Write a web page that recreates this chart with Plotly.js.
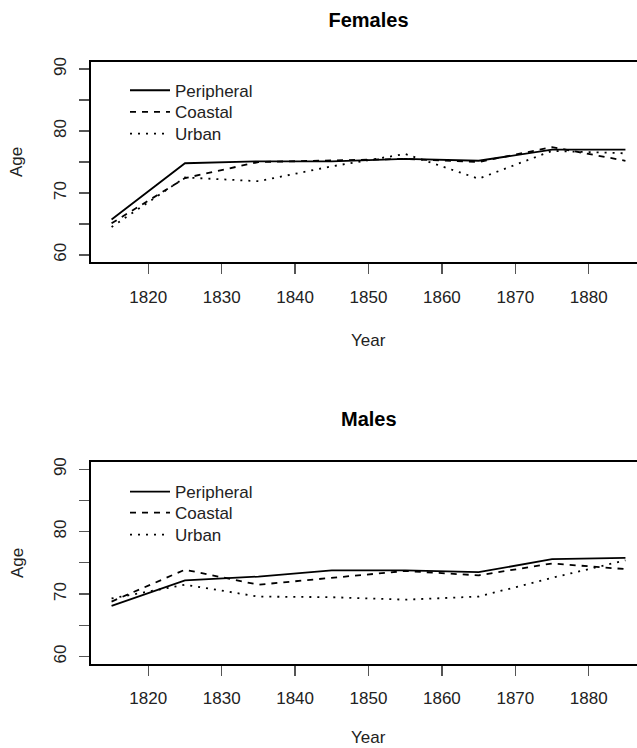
<!DOCTYPE html>
<html>
<head>
<meta charset="utf-8">
<script src="https://cdn.plot.ly/plotly-3.0.1.min.js"></script>
<style>
html,body{margin:0;padding:0;overflow:hidden;background:#fff;width:637px;height:748px;}
#chart{width:660px;height:748px;}
</style>
</head>
<body>
<div id="chart"></div>
<script>
// ---- data ----
const years = [1815, 1825, 1835, 1845, 1855, 1865, 1875, 1885];
const seriesNames = ["Peripheral", "Coastal", "Urban"];
const femalesPeripheral = [65.7, 74.8, 75.1, 75.1, 75.5, 75.2, 77.0, 77.0];
const femalesCoastal    = [65.1, 72.4, 75.0, 75.2, 75.5, 75.0, 77.4, 75.2];
const femalesUrban      = [64.5, 72.5, 71.9, 74.3, 76.3, 72.3, 76.8, 76.4];
const malesPeripheral   = [68.1, 72.2, 72.8, 73.8, 73.8, 73.5, 75.6, 75.8];
const malesCoastal      = [68.8, 73.9, 71.5, 72.6, 73.7, 73.0, 74.9, 74.0];
const malesUrban        = [69.3, 71.5, 69.6, 69.5, 69.1, 69.6, 72.6, 75.4];
const xTickVals = [1820, 1830, 1840, 1850, 1860, 1870, 1880];
const yTickVals = [60, 65, 70, 75, 80, 85, 90];
const yTickText = ["60", "", "70", "", "80", "", "90"];

// ---- styling ----
const W = 660, H = 748;
const dashes = ["solid", "6px,6px", "2px,6px"];
const font = "Liberation Sans, Arial, Helvetica, sans-serif";

function mk(y, i, xa, ya, lg) {
  return {
    x: years, y: y, type: "scatter", mode: "lines",
    name: seriesNames[i], xaxis: xa, yaxis: ya, legend: lg,
    line: {color: "#000", width: 1.8, dash: dashes[i]},
    hoverinfo: "skip"
  };
}
const traces = [
  mk(femalesPeripheral, 0, "x", "y", "legend"),
  mk(femalesCoastal, 1, "x", "y", "legend2"),
  mk(femalesUrban, 2, "x", "y", "legend3"),
  mk(malesPeripheral, 0, "x2", "y2", "legend4"),
  mk(malesCoastal, 1, "x2", "y2", "legend5"),
  mk(malesUrban, 2, "x2", "y2", "legend6")
];

function py(px) { return 1 - px / H; }

const xax = (anchor) => ({
  anchor: anchor, range: [1812.2, 1887.8], domain: [0, 1],
  tickmode: "array", tickvals: xTickVals, ticktext: xTickVals.map(String),
  ticks: "outside", ticklen: 10, tickwidth: 1.3, tickcolor: "#555",
  showline: true, mirror: true, linecolor: "#000", linewidth: 2,
  showgrid: false, zeroline: false, ticklabelstandoff: 8,
  tickfont: {family: font, size: 17, color: "#222"}
});
const yax = (anchor, dom) => ({
  anchor: anchor, range: [58.8, 91.2], domain: dom,
  tickmode: "array", tickvals: yTickVals, ticktext: yTickText,
  ticks: "outside", ticklen: 10, tickwidth: 1.3, tickcolor: "#555", tickangle: -90,
  showline: true, mirror: true, linecolor: "#000", linewidth: 2,
  showgrid: false, zeroline: false, ticklabelstandoff: 6,
  tickfont: {family: font, size: 17, color: "#222"}
});

// one legend per entry so each row sits where the reference puts it
const legendAt = (centerY) => ({
  x: (125 - 91) / 555, xanchor: "left", y: py(centerY - 18), yanchor: "top",
  bgcolor: "rgba(0,0,0,0)", borderwidth: 0,
  font: {family: font, size: 17, color: "#222"},
  traceorder: "normal", itemwidth: 40
});

const layout = {
  width: W, height: H,
  margin: {l: 91, r: 14, t: 0, b: 0},
  paper_bgcolor: "#fff", plot_bgcolor: "#fff",
  showlegend: true,
  title: {text: "<b>Females</b>", x: 0.5, xref: "paper", y: py(20), yref: "container",
          yanchor: "middle", xanchor: "center", font: {family: font, size: 20, color: "#000"}},
  xaxis: xax("y"),
  yaxis: yax("x", [py(262.3), py(61.7)]),
  xaxis2: xax("y2"),
  yaxis2: yax("x2", [py(664), py(461.7)]),
  legend: legendAt(90.7),
  legend2: legendAt(112.3),
  legend3: legendAt(134),
  legend4: legendAt(492),
  legend5: legendAt(513),
  legend6: legendAt(535),
  annotations: [
    {text: "<b>Males</b>", xref: "paper", yref: "paper", x: 0.5, y: py(419), showarrow: false,
     xanchor: "center", yanchor: "middle", font: {family: font, size: 20, color: "#000"}},
    {text: "Year", xref: "paper", yref: "paper", x: 0.5, y: py(340), showarrow: false,
     xanchor: "center", yanchor: "middle", font: {family: font, size: 17, color: "#222"}},
    {text: "Year", xref: "paper", yref: "paper", x: 0.5, y: py(737), showarrow: false,
     xanchor: "center", yanchor: "middle", font: {family: font, size: 17, color: "#222"}},
    {text: "Age", xref: "paper", yref: "paper", x: (17 - 91) / 555, y: py(162), showarrow: false,
     textangle: -90, xanchor: "center", yanchor: "middle", font: {family: font, size: 17, color: "#222"}},
    {text: "Age", xref: "paper", yref: "paper", x: (17 - 91) / 555, y: py(563), showarrow: false,
     textangle: -90, xanchor: "center", yanchor: "middle", font: {family: font, size: 17, color: "#222"}}
  ]
};

Plotly.newPlot("chart", traces, layout, {staticPlot: true, displayModeBar: false});
</script>
</body>
</html>
